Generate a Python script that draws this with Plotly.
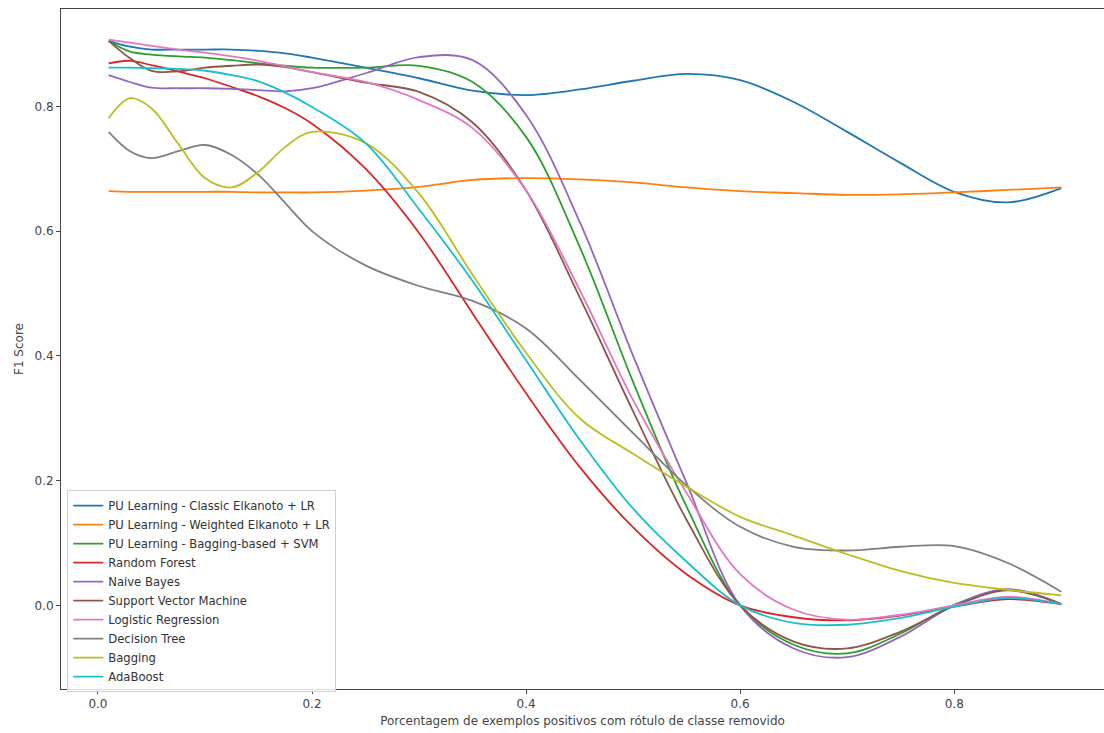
import plotly.graph_objects as go

x_vals = [0.01, 0.03, 0.05, 0.075, 0.1, 0.125, 0.15, 0.175, 0.2, 0.25, 0.3, 0.35,
          0.4, 0.45, 0.5, 0.55, 0.6, 0.65, 0.7, 0.75, 0.8, 0.85, 0.9]

classic_elkanoto = [0.905, 0.8955, 0.891, 0.891, 0.891, 0.891, 0.889, 0.885, 0.878, 0.862, 0.845, 0.825,
                    0.818, 0.827, 0.841, 0.852, 0.842, 0.807, 0.759, 0.709, 0.663, 0.646, 0.669]
weighted_elkanoto = [0.664, 0.663, 0.663, 0.663, 0.663, 0.663, 0.662, 0.662, 0.662, 0.665, 0.671, 0.682,
                     0.685, 0.683, 0.678, 0.670, 0.664, 0.661, 0.658, 0.659, 0.662, 0.666, 0.670]
bagging_svm = [0.905, 0.8875, 0.883, 0.880, 0.878, 0.874, 0.869, 0.865, 0.862, 0.862, 0.865, 0.839,
               0.751, 0.575, 0.358, 0.158, 0.0, -0.063, -0.077, -0.045, 0.001, 0.025, 0.002]
random_forest = [0.869, 0.873, 0.866, 0.856, 0.845, 0.831, 0.816, 0.797, 0.772, 0.70, 0.597, 0.468,
                 0.34, 0.222, 0.125, 0.05, 0.0, -0.019, -0.024, -0.016, -0.002, 0.010, 0.002]
naive_bayes = [0.850, 0.839, 0.830, 0.829, 0.829, 0.828, 0.826, 0.824, 0.829, 0.853, 0.879, 0.874,
               0.786, 0.615, 0.400, 0.196, 0.0, -0.069, -0.083, -0.050, 0.0, 0.026, 0.002]
svm = [0.905, 0.877, 0.857, 0.856, 0.862, 0.865, 0.867, 0.863, 0.855, 0.838, 0.823, 0.774,
       0.665, 0.494, 0.311, 0.137, 0.0, -0.058, -0.069, -0.042, -0.001, 0.024, 0.002]
logistic = [0.907, 0.902, 0.897, 0.891, 0.886, 0.880, 0.873, 0.864, 0.855, 0.839, 0.810, 0.765,
            0.665, 0.506, 0.329, 0.18, 0.05, -0.007, -0.023, -0.015, 0.0, 0.014, 0.002]
decision_tree = [0.759, 0.728, 0.717, 0.728, 0.738, 0.722, 0.690, 0.645, 0.600, 0.545, 0.512, 0.488,
                 0.444, 0.362, 0.276, 0.192, 0.126, 0.094, 0.088, 0.094, 0.095, 0.068, 0.022]
bagging = [0.781, 0.813, 0.797, 0.740, 0.685, 0.670, 0.695, 0.735, 0.759, 0.741, 0.66, 0.53,
           0.405, 0.30, 0.243, 0.19, 0.142, 0.112, 0.082, 0.055, 0.036, 0.025, 0.016]
adaboost = [0.862, 0.862, 0.861, 0.860, 0.857, 0.850, 0.840, 0.822, 0.799, 0.741, 0.635, 0.52,
            0.393, 0.266, 0.155, 0.07, 0.0, -0.028, -0.031, -0.020, -0.002, 0.012, 0.002]

series_names = ["PU Learning - Classic Elkanoto + LR", "PU Learning - Weighted Elkanoto + LR",
                "PU Learning - Bagging-based + SVM", "Random Forest", "Naive Bayes",
                "Support Vector Machine", "Logistic Regression", "Decision Tree", "Bagging", "AdaBoost"]
series_values = [classic_elkanoto, weighted_elkanoto, bagging_svm, random_forest, naive_bayes,
                 svm, logistic, decision_tree, bagging, adaboost]
colors = ["#1f77b4", "#ff7f0e", "#2ca02c", "#d62728", "#9467bd",
          "#8c564b", "#e377c2", "#7f7f7f", "#bcbd22", "#17becf"]

tick_x = [0.0, 0.2, 0.4, 0.6, 0.8]
tick_y = [0.0, 0.2, 0.4, 0.6, 0.8]

fig = go.Figure()
for name, vals, c in zip(series_names, series_values, colors):
    fig.add_trace(go.Scatter(x=x_vals, y=vals, mode="lines", name=name,
                             line=dict(color=c, width=1.8, shape="spline", smoothing=1.0)))

font_family = "DejaVu Sans"
fig.update_layout(
    width=1104, height=733,
    margin=dict(l=61, r=0, t=9, b=44),
    paper_bgcolor="white", plot_bgcolor="white",
    font=dict(family=font_family, size=12, color="#444"),
    showlegend=True,
    legend=dict(x=0.006, y=0.2926, xanchor="left", yanchor="top",
                bgcolor="rgba(255,255,255,0.8)", bordercolor="#d0d0d0", borderwidth=1,
                font=dict(family=font_family, size=11.6, color="#333"),
                tracegroupgap=0, itemwidth=30),
)
fig.update_xaxes(range=[-0.0345, 0.9399], tickvals=tick_x, tickformat=".1f",
                 ticks="outside", ticklen=4, tickcolor="#444",
                 showline=True, linecolor="#444", linewidth=1, mirror=True,
                 showgrid=False, zeroline=False,
                 title=dict(text="Porcentagem de exemplos positivos com rótulo de classe removido",
                            font=dict(size=12, color="#444"), standoff=6))
fig.update_yaxes(range=[-0.134, 0.956], tickvals=tick_y, tickformat=".1f",
                 ticks="outside", ticklen=4, tickcolor="#444",
                 showline=True, linecolor="#444", linewidth=1, mirror=False,
                 showgrid=False, zeroline=False,
                 title=dict(text="F1 Score", font=dict(size=12, color="#444"), standoff=8))

fig.write_html("out.html")
